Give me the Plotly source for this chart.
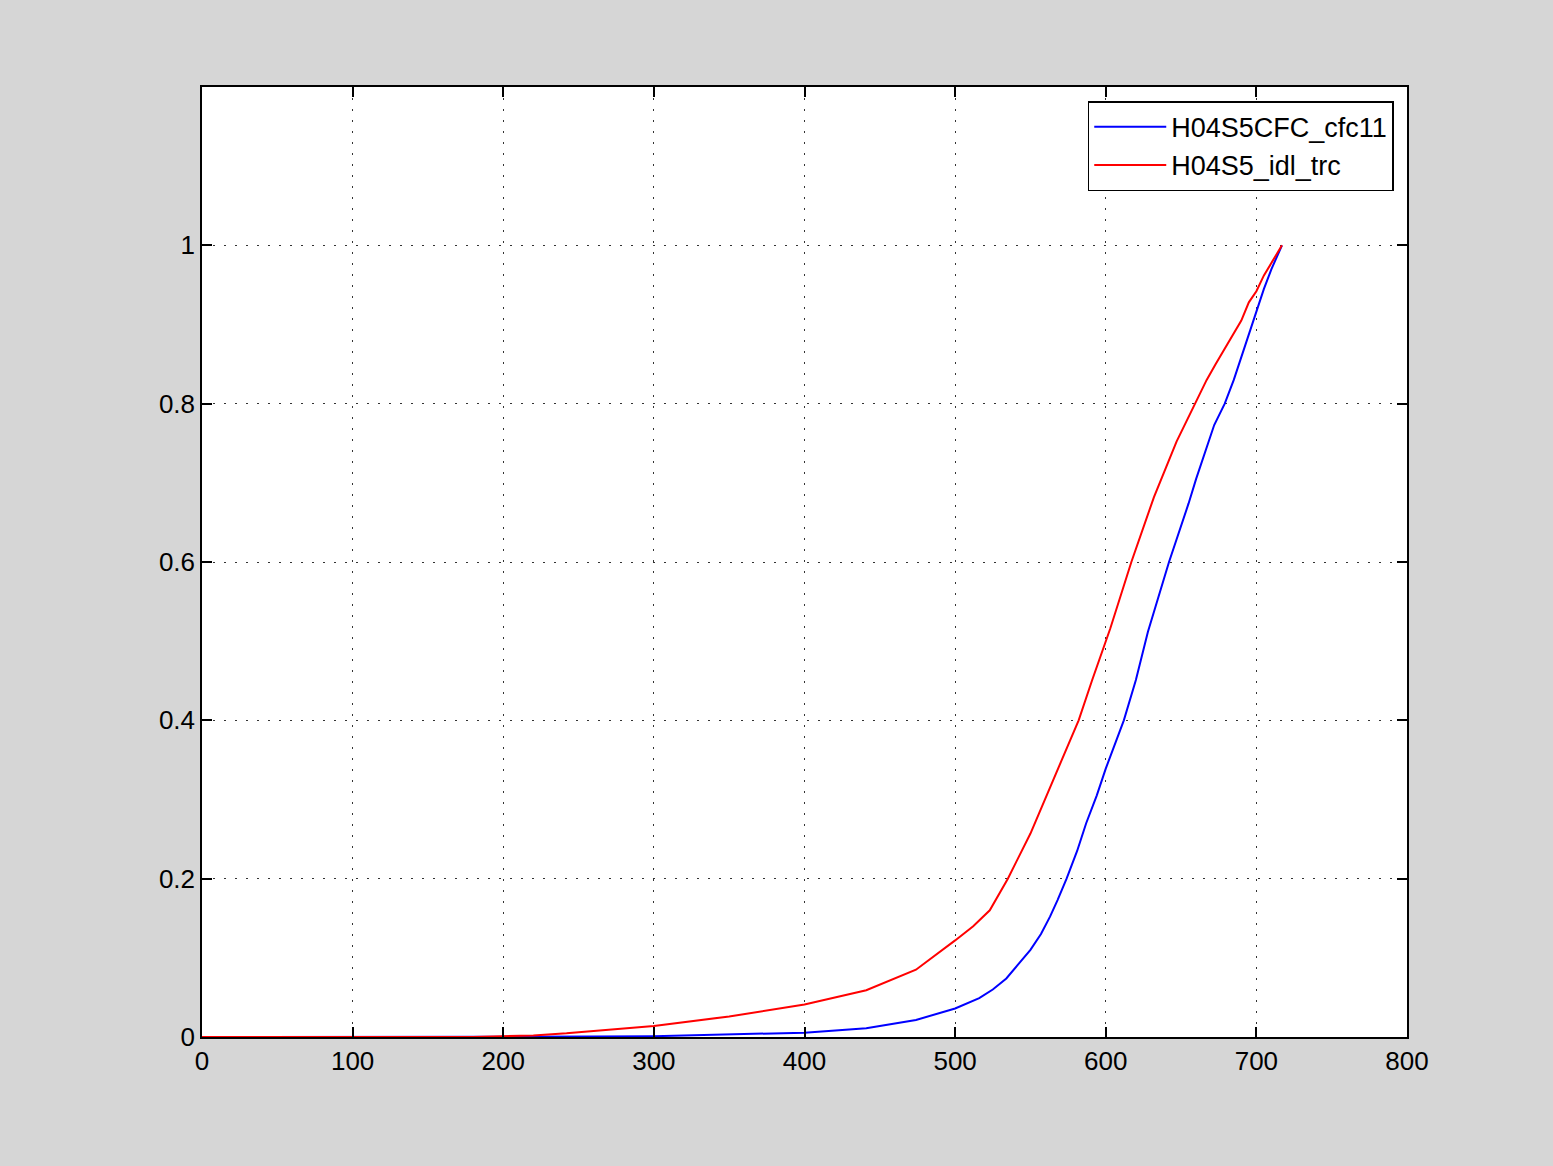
import plotly.graph_objects as go

# Blue series: H04S5CFC_cfc11
x_blue = [0, 100, 200, 220, 260, 300, 350, 400, 441, 474, 500, 516, 525, 534, 542, 550, 557, 563, 568, 574, 581, 587, 594, 600, 612, 620, 628, 642, 655, 660, 672, 679, 685, 692, 700, 705, 710, 717]
y_blue = [0, 0, 0, 0, 0.0005, 0.001, 0.003, 0.0055, 0.011, 0.0215, 0.036, 0.049, 0.06, 0.074, 0.092, 0.11, 0.13, 0.152, 0.173, 0.2, 0.235, 0.27, 0.305, 0.339, 0.40, 0.451, 0.512, 0.60, 0.674, 0.705, 0.773, 0.80, 0.83, 0.87, 0.918, 0.945, 0.97, 1.0]

# Red series: H04S5_idl_trc
x_red = [0, 100, 180, 200, 220, 242, 270, 300, 350, 400, 441, 474, 500, 512, 523, 535, 550, 563, 576, 582, 591, 603, 617, 632, 647, 659, 667, 673, 680, 690, 695, 700, 705, 710, 717]
y_red = [0, 0, 0, 0.001, 0.002, 0.0046, 0.009, 0.014, 0.026, 0.041, 0.059, 0.085, 0.122, 0.14, 0.16, 0.20, 0.257, 0.316, 0.375, 0.40, 0.451, 0.516, 0.60, 0.682, 0.752, 0.80, 0.83, 0.85, 0.872, 0.905, 0.928, 0.942, 0.962, 0.978, 1.0]

x_ticks = [0, 100, 200, 300, 400, 500, 600, 700, 800]
y_ticks = [0, 0.2, 0.4, 0.6, 0.8, 1]
y_tick_labels = ["0", "0.2", "0.4", "0.6", "0.8", "1"]

FONT = "Liberation Sans, Arial, Helvetica, sans-serif"

fig = go.Figure()
fig.add_trace(go.Scatter(x=x_blue, y=y_blue, mode="lines", name="H04S5CFC_cfc11",
                         line=dict(color="#0000ff", width=2)))
fig.add_trace(go.Scatter(x=x_red, y=y_red, mode="lines", name="H04S5_idl_trc",
                         line=dict(color="#ff0000", width=2)))

axis_common = dict(
    showline=True, linecolor="black", linewidth=1.5, mirror="ticks",
    ticks="inside", ticklen=10, tickwidth=1.5, tickcolor="black",
    showgrid=True, gridcolor="#333333", gridwidth=1, griddash="1.5px,9.5px",
    zeroline=False, tickfont=dict(family=FONT, size=26, color="black"),
)

fig.update_xaxes(range=[0, 800], tickvals=x_ticks, ticktext=[str(v) for v in x_ticks], **axis_common)
fig.update_yaxes(range=[0, 1.2], tickvals=y_ticks, ticktext=y_tick_labels, **axis_common)

fig.update_layout(
    width=1553, height=1166,
    paper_bgcolor="#d6d6d6", plot_bgcolor="white",
    margin=dict(l=202, r=146, t=87, b=129),
    showlegend=True,
    legend=dict(x=0.989, y=0.985, xanchor="right", yanchor="top",
                bgcolor="white", bordercolor="black", borderwidth=1.5,
                font=dict(family=FONT, size=27, color="black"),
                tracegroupgap=0, itemwidth=72),
    font=dict(family=FONT, color="black"),
)

fig.write_html("out.html", config={"displayModeBar": False},
               post_script="document.body.style.margin='0';document.body.style.padding='0';document.body.style.overflow='hidden';")
